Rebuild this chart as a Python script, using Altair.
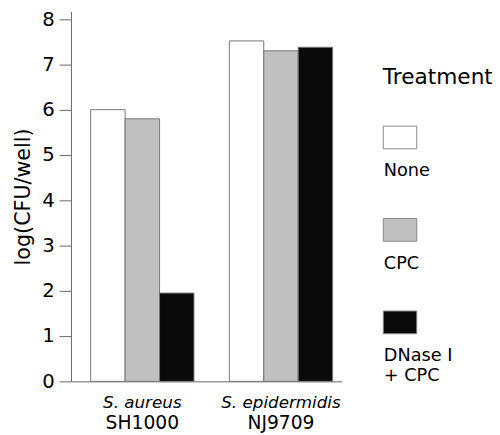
import altair as alt
import pandas as pd
import json

# ---- data ----
species = ["S. aureus", "S. epidermidis"]
strain_ids = ["SH1000", "NJ9709"]
treatments = ["None", "CPC", "DNase I + CPC"]
none_vals = [6.0, 7.52]
cpc_vals = [5.8, 7.3]
dnase_vals = [1.95, 7.38]
y_ticks = [0, 1, 2, 3, 4, 5, 6, 7, 8]
fills = ["#ffffff", "#c0c0c0", "#0a0a0a"]

rows = []
for i, sp in enumerate(species):
    for t, vals in zip(treatments, [none_vals, cpc_vals, dnase_vals]):
        rows.append({"species": sp, "strain": strain_ids[i], "treatment": t, "value": vals[i]})
df = pd.DataFrame(rows)

FONT = "DejaVu Sans"
W, H = 275, 376

strain_map = json.dumps(dict(zip(species, strain_ids))).replace('"', "'")

x_scale = alt.Scale(domain=species, paddingInner=0.255, paddingOuter=0.103, align=0.69)

y_enc = alt.Y(
    "value:Q",
    scale=alt.Scale(domain=[0, 8.17], nice=False, zero=True),
    axis=alt.Axis(
        title="log(CFU/well)", values=y_ticks, grid=False, format="d",
        domainColor="#666", tickColor="#666", tickSize=12, tickWidth=1,
        labelPadding=5, labelFont=FONT, labelFontSize=20, labelColor="black",
        titleFont=FONT, titleFontSize=21, titleFontWeight="normal", titleColor="black",
        titlePadding=8,
    ),
)

fill_enc = alt.Fill(
    "treatment:N", sort=treatments,
    scale=alt.Scale(domain=treatments, range=fills),
    legend=alt.Legend(
        title="Treatment", orient="none", legendX=317, legendY=57,
        titleFont=FONT, titleFontSize=22, titleFontWeight="normal", titleColor="black",
        titlePadding=37, padding=0,
        symbolType="M-1,-1.0H1V0.36H-1Z", symbolSize=1156,
        symbolStrokeColor="#888", symbolStrokeWidth=1,
        labelFont=FONT, labelFontSize=18, labelColor="black",
        labelOffset={"expr": "-34"}, labelBaseline="top",
        labelExpr="datum.value == 'DNase I + CPC' ? ['', 'DNase I', '+ CPC'] : ['', datum.value]",
        rowPadding=36, labelLimit=200,
    ),
)

xoff = alt.XOffset("treatment:N", sort=treatments, scale=alt.Scale(paddingInner=0, paddingOuter=0))

bars = alt.Chart(df).mark_bar(stroke="#777", strokeWidth=1).encode(
    x=alt.X("species:N", sort=species, scale=x_scale,
            axis=alt.Axis(orient="bottom", title=None, ticks=False, labelAngle=0,
                          domainColor="#666", labelFont=FONT, labelFontSize=17,
                          labelFontStyle="italic", labelColor="black", labelPadding=14)),
    xOffset=xoff, y=y_enc, fill=fill_enc,
)

strain_layer = alt.Chart(df).mark_bar(opacity=0).encode(
    x=alt.X("species:N", sort=species, scale=x_scale,
            axis=alt.Axis(orient="bottom", title=None, ticks=False, domain=False, labelAngle=0,
                          labelFont=FONT, labelFontSize=19, labelColor="black", labelPadding=33,
                          labelExpr=strain_map + "[datum.value]")),
    xOffset=xoff, y=y_enc, fill=fill_enc,
)

chart = alt.layer(bars, strain_layer).resolve_axis(x="independent").properties(
    width=W, height=H,
    autosize=alt.AutoSizeParams(type="none"),
    padding={"left": 64, "top": 0, "right": 153, "bottom": 51},
).configure_view(stroke=None)

chart.save("out.html", embed_options={"renderer": "svg", "actions": False})
